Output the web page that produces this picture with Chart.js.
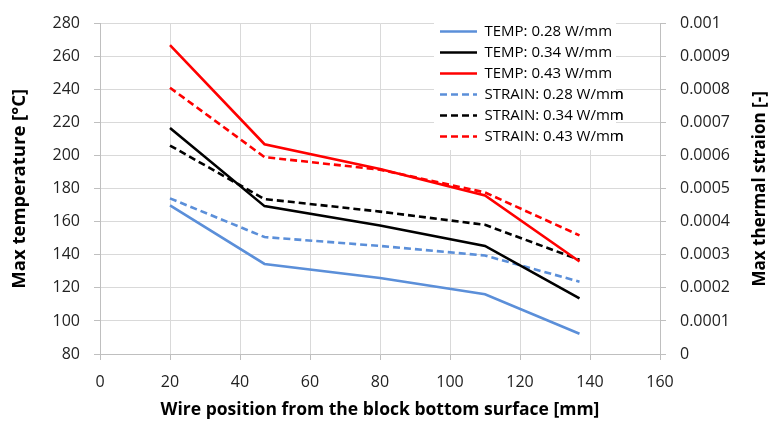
<!DOCTYPE html>
<html>
<head>
<meta charset="utf-8">
<script src="https://cdn.jsdelivr.net/npm/chart.js@4/dist/chart.umd.min.js"></script>
<style>
  html, body { margin: 0; padding: 0; background: #fff; }
  #wrap { width: 776px; height: 429px; position: relative; }
</style>
</head>
<body>
<div id="wrap"><canvas id="c" width="776" height="429"></canvas></div>
<script>
// Wire positions [mm]
const xPos = [20, 47, 80, 110, 137];
// Max temperature [°C]
const temp028 = [170, 134.5, 126, 116.2, 92.3];
const temp034 = [216.8, 169.5, 157.8, 145.4, 113.7];
const temp043 = [267, 207, 192, 176, 136];
// Max thermal strain [-]
const strain028 = [0.000471, 0.000354, 0.000327, 0.000298, 0.000219];
const strain034 = [0.000631, 0.000469, 0.000431, 0.000391, 0.000285];
const strain043 = [0.000806, 0.000596, 0.000558, 0.000489, 0.000359];

const labels = ['TEMP: 0.28 W/mm', 'TEMP: 0.34 W/mm', 'TEMP: 0.43 W/mm',
                'STRAIN: 0.28 W/mm', 'STRAIN: 0.34 W/mm', 'STRAIN: 0.43 W/mm'];
const rightTitle = 'Max thermal straion [-]';

const BLUE = '#5b8fd9', BLACK = '#000000', RED = '#ff0000';
const FONT = "'Open Sans', sans-serif";

const pts = (arr) => arr.map((v, i) => ({x: xPos[i], y: v}));

function ds(label, values, color, axis, dashed) {
  return {
    label, data: pts(values), yAxisID: axis,
    borderColor: color, backgroundColor: color,
    borderWidth: 2.6, borderDash: dashed ? [7, 4] : [],
    pointRadius: 0, tension: 0, fill: false
  };
}

const legendPlugin = {
  id: 'legendPlace',
  beforeDraw(chart) {
    const lg = chart.legend;
    lg.left = 434; lg.top = 18; lg.right = 634; lg.bottom = 300;
    lg.width = 200; lg.height = 282;
  },
  afterDraw(chart) {
    const ctx = chart.ctx;
    ctx.save();
    ctx.fillStyle = '#ffffff';
    ctx.fillRect(434, 14, 182, 136);
    ctx.restore();
    chart.legend.draw();
    // right axis title, reading bottom-to-top
    const ca = chart.chartArea;
    ctx.save();
    ctx.translate(760, (ca.top + ca.bottom) / 2);
    ctx.rotate(-Math.PI / 2);
    ctx.font = "bold 17px " + FONT;
    ctx.fillStyle = '#000';
    ctx.textAlign = 'center';
    ctx.textBaseline = 'middle';
    ctx.fillText(rightTitle, 0, 0);
    ctx.restore();
  }
};

new Chart(document.getElementById('c'), {
  type: 'line',
  data: {
    datasets: [
      ds(labels[0], temp028, BLUE, 'y', false),
      ds(labels[1], temp034, BLACK, 'y', false),
      ds(labels[2], temp043, RED, 'y', false),
      ds(labels[3], strain028, BLUE, 'y2', true),
      ds(labels[4], strain034, BLACK, 'y2', true),
      ds(labels[5], strain043, RED, 'y2', true)
    ]
  },
  options: {
    responsive: false,
    animation: false,
    layout: { padding: { top: 12, left: 0, right: 0, bottom: 0 } },
    plugins: {
      tooltip: { enabled: false },
      legend: {
        position: 'chartArea',
        align: 'start',
        labels: {
          usePointStyle: true, pointStyle: 'line', pointStyleWidth: 37,
          padding: 6, color: '#000',
          font: { family: FONT, size: 15 },
          generateLabels(chart) {
            const items = Chart.defaults.plugins.legend.labels.generateLabels(chart);
            items.forEach((it) => {
              const d = chart.data.datasets[it.datasetIndex];
              it.lineDash = d.borderDash;
              it.lineWidth = d.borderWidth;
              it.strokeStyle = d.borderColor;
              it.lineCap = 'butt';
            });
            return items;
          }
        }
      }
    },
    scales: {
      x: {
        type: 'linear', min: 0, max: 160,
        ticks: { stepSize: 20, color: '#222', padding: 13, font: { family: FONT, size: 16 } },
        grid: { color: '#d9d9d9', tickLength: 6, tickColor: '#bfbfbf' },
        border: { color: '#bfbfbf' },
        title: { display: true, text: 'Wire position from the block bottom surface [mm]', color: '#000',
                 font: { family: FONT, size: 17.5, weight: 'bold' }, padding: { top: 8, bottom: 8 } },
        afterFit(s) { s.height = 75; }
      },
      y: {
        position: 'left', min: 80, max: 280,
        ticks: { stepSize: 20, color: '#222', padding: 14, font: { family: FONT, size: 16 } },
        grid: { color: '#d9d9d9', tickLength: 6, tickColor: '#bfbfbf' },
        border: { color: '#bfbfbf' },
        title: { display: true, text: 'Max temperature [°C]', color: '#000',
                 font: { family: FONT, size: 18.5, weight: 'bold' }, padding: { top: 9, bottom: 9 } },
        afterFit(s) { s.width = 100; }
      },
      y2: {
        position: 'right', min: 0, max: 0.001,
        ticks: { stepSize: 0.0001, color: '#222', padding: 14, font: { family: FONT, size: 16 },
                 callback: (v) => String(Number(v.toFixed(4))) },
        grid: { drawOnChartArea: false, tickLength: 6, tickColor: '#bfbfbf' },
        border: { color: '#bfbfbf' },
        title: { display: false },
        afterFit(s) { s.width = 116; }
      }
    }
  },
  plugins: [legendPlugin]
});
</script>
</body>
</html>
